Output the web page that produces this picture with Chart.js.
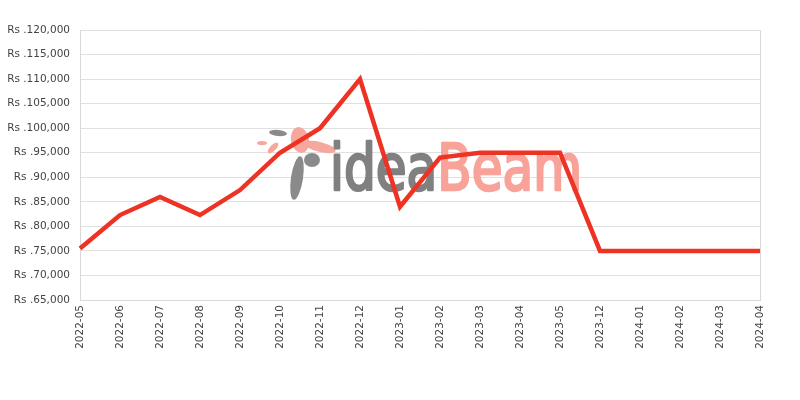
<!DOCTYPE html>
<html>
<head>
<meta charset="utf-8">
<script src="https://cdn.jsdelivr.net/npm/chart.js@4.4.0/dist/chart.umd.min.js"></script>
<style>
  html, body { margin: 0; padding: 0; background: #fff; }
  #wrap { width: 800px; height: 400px; }
</style>
</head>
<body>
<div id="wrap"><canvas id="myChart" width="800" height="400"></canvas></div>
<script>
// data
const months = ['2022-05', '2022-06', '2022-07', '2022-08', '2022-09', '2022-10', '2022-11', '2022-12',
  '2023-01', '2023-02', '2023-03', '2023-04', '2023-05', '2023-12', '2024-01', '2024-02', '2024-03', '2024-04'];
const prices = [75500, 82300, 86000, 82300, 87400, 95000, 100000, 110000,
  84000, 94000, 95000, 95000, 95000, 75000, 75000, 75000, 75000, 75000];
const yMin = 65000;
const yMax = 120000;
const yStep = 5000;

// faint logo behind the line
const watermark = {
  id: 'watermark',
  beforeDatasetsDraw(chart) {
    const c = chart.ctx;
    c.save();
    // bird-ish shapes
    c.fillStyle = '#f6a89e';
    c.beginPath();
    c.ellipse(300, 140, 9, 13, -0.2, 0, Math.PI * 2);
    c.fill();
    c.beginPath();
    c.ellipse(320, 147, 16, 5, 0.25, 0, Math.PI * 2);
    c.fill();
    c.beginPath();
    c.ellipse(273, 148, 7, 3, -0.8, 0, Math.PI * 2);
    c.fill();
    c.beginPath();
    c.ellipse(262, 143, 5, 2, 0, 0, Math.PI * 2);
    c.fill();
    c.fillStyle = '#8a8a8a';
    c.beginPath();
    c.ellipse(278, 133, 9, 3, 0.1, 0, Math.PI * 2);
    c.fill();
    c.beginPath();
    c.ellipse(297, 178, 6, 22, 0.15, 0, Math.PI * 2);
    c.fill();
    c.beginPath();
    c.ellipse(312, 160, 8, 7, 0, 0, Math.PI * 2);
    c.fill();
    // text, squeezed to the logo's width and thickened a little
    c.font = '64px "DejaVu Sans Condensed", "DejaVu Sans", sans-serif';
    c.textBaseline = 'alphabetic';
    const w1 = c.measureText('idea').width;
    const w2 = c.measureText('Beam').width;
    const k = 252 / (w1 + w2);
    c.translate(330, 190);
    c.scale(k, 1);
    c.lineWidth = 2.5;
    c.lineJoin = 'round';
    c.fillStyle = c.strokeStyle = '#808080';
    c.fillText('idea', 0, 0);
    c.strokeText('idea', 0, 0);
    c.fillStyle = c.strokeStyle = '#f8a299';
    c.fillText('Beam', w1, 0);
    c.strokeText('Beam', w1, 0);
    c.restore();
  }
};

const ctx = document.getElementById('myChart').getContext('2d');
let myChart = new Chart(ctx, {
  type: 'line',
  data: {
    labels: months,
    datasets: [{
      data: prices,
      borderColor: '#ee3224',
      borderWidth: 4.5,
      pointRadius: 0,
      tension: 0,
      fill: false
    }]
  },
  options: {
    responsive: false,
    animation: false,
    layout: { padding: { top: 30, right: 40, left: 0, bottom: 0 } },
    plugins: { legend: { display: false }, tooltip: { enabled: false } },
    scales: {
      x: {
        offset: false,
        grid: { display: false, drawTicks: false },
        border: { display: true, color: '#d9d9d9' },
        ticks: {
          minRotation: 90, maxRotation: 90, autoSkip: false, padding: 5,
          color: '#444', font: { family: 'DejaVu Sans', size: 10.5 }
        },
        afterFit(scale) { scale.height = 100; }
      },
      y: {
        min: yMin,
        max: yMax,
        grid: { color: '#e0e0e0', drawTicks: false },
        border: { display: true, color: '#d9d9d9' },
        ticks: {
          stepSize: yStep, padding: 10,
          color: '#444', font: { family: 'DejaVu Sans', size: 10.5 },
          callback: v => 'Rs .' + v.toLocaleString('en-US')
        },
        afterFit(scale) { scale.width = 80; }
      }
    }
  },
  plugins: [watermark, {
    id: 'rightBorder',
    afterDraw(chart) {
      const a = chart.chartArea, c = chart.ctx;
      c.save();
      c.strokeStyle = '#d9d9d9';
      c.lineWidth = 1;
      c.beginPath();
      c.moveTo(a.right + 0.5, a.top);
      c.lineTo(a.right + 0.5, a.bottom);
      c.stroke();
      c.restore();
    }
  }]
});
</script>
</body>
</html>
